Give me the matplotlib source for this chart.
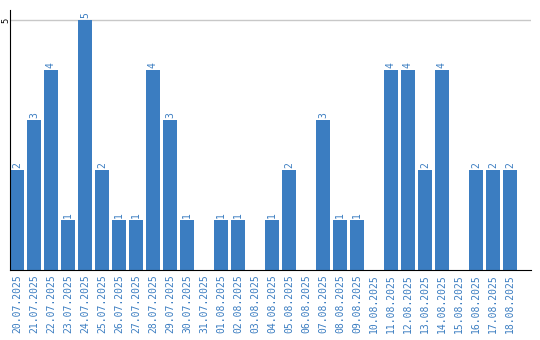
import matplotlib
matplotlib.use("Agg")
import matplotlib.pyplot as plt

# данные по дням
dates = [
    "20.07.2025", "21.07.2025", "22.07.2025", "23.07.2025", "24.07.2025",
    "25.07.2025", "26.07.2025", "27.07.2025", "28.07.2025", "29.07.2025",
    "30.07.2025", "31.07.2025", "01.08.2025", "02.08.2025", "03.08.2025",
    "04.08.2025", "05.08.2025", "06.08.2025", "07.08.2025", "08.08.2025",
    "09.08.2025", "10.08.2025", "11.08.2025", "12.08.2025", "13.08.2025",
    "14.08.2025", "15.08.2025", "16.08.2025", "17.08.2025", "18.08.2025",
]
counts = [2, 3, 4, 1, 5, 2, 1, 1, 4, 3, 1, 0, 1, 1, 0,
          1, 2, 0, 3, 1, 1, 0, 4, 4, 2, 4, 0, 2, 2, 2]
y_ticks = [5]

BLUE = "#3b7dc1"

fig = plt.figure(figsize=(5.4, 3.4), dpi=100)
ax = fig.add_axes([10 / 540, 70 / 340, 521 / 540, 260 / 340])

x = list(range(len(dates)))
ax.bar(x, counts, width=0.82, color=BLUE, zorder=2)

for xi, v in zip(x, counts):
    if v > 0:
        ax.text(xi, v + 0.04, str(v), rotation=90, ha="center", va="bottom",
                color=BLUE, fontsize=7, family="DejaVu Sans Mono")

ax.set_xlim(-0.41, 30.24)
ax.set_ylim(0, 5.2)
ax.set_yticks(y_ticks)
ax.set_yticklabels([str(t) for t in y_ticks], rotation=90, va="center",
                   ha="center", fontsize=6)
ax.yaxis.grid(True, color="#c8c8c8", linewidth=1, zorder=0)
ax.tick_params(axis="y", length=0, pad=3)

ax.set_xticks(x)
ax.set_xticklabels(dates, rotation=90, color=BLUE, fontsize=7,
                   family="DejaVu Sans Mono")
ax.tick_params(axis="x", length=0, pad=3)

ax.spines["top"].set_visible(False)
ax.spines["right"].set_visible(False)
ax.spines["left"].set_color("black")
ax.spines["bottom"].set_color("black")

fig.savefig("out.png", dpi=100)
